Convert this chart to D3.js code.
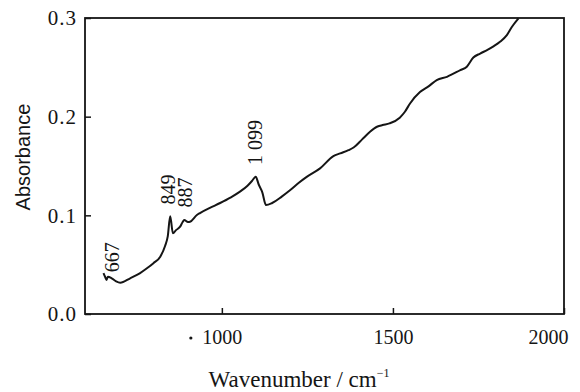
<!DOCTYPE html>
<html>
<head>
<meta charset="utf-8">
<script src="https://cdn.jsdelivr.net/npm/d3@7"></script>
<style>
  html, body { margin: 0; padding: 0; background: #fff; }
  svg { display: block; }
</style>
</head>
<body>
<div id="chart"></div>
<script>
// spectrum
const wavenumber = [654, 659, 663, 667, 678, 691, 703, 732, 760, 781, 800, 820, 834, 842, 849, 857, 866, 878, 885, 890, 901, 907, 927, 936, 965, 995, 1025, 1053, 1075, 1088, 1099, 1108, 1118, 1129, 1147, 1175, 1200, 1225, 1248, 1287, 1326, 1346, 1370, 1385, 1410, 1433, 1455, 1470, 1490, 1520, 1535, 1550, 1579, 1605, 1628, 1658, 1697, 1716, 1735, 1755, 1775, 1795, 1813, 1833, 1848, 1867]
const absorbance = [0.0415, 0.0375, 0.0345, 0.0378, 0.0362, 0.0330, 0.0317, 0.0362, 0.0412, 0.0463, 0.0515, 0.0581, 0.0689, 0.0790, 0.0990, 0.0818, 0.0850, 0.0885, 0.0930, 0.0952, 0.0932, 0.0935, 0.1003, 0.1023, 0.1075, 0.1125, 0.1180, 0.1240, 0.1300, 0.1348, 0.1390, 0.1310, 0.1236, 0.1104, 0.1125, 0.1190, 0.1256, 0.1330, 0.1390, 0.1476, 0.1600, 0.1628, 0.1660, 0.1687, 0.1770, 0.1847, 0.1900, 0.1915, 0.1932, 0.1990, 0.2050, 0.2134, 0.2249, 0.2310, 0.2371, 0.2404, 0.2472, 0.2506, 0.2599, 0.2640, 0.2675, 0.2715, 0.2759, 0.2827, 0.2911, 0.2996]

const xTicks = [1000, 1500, 2000]
const yTicks = [0.0, 0.1, 0.2, 0.3]
const peakNames = ['667', '849', '887', '1 099']
const peakAt = [667, 849, 887, 1099]
const peakLevel = [0.0424, 0.111, 0.108, 0.151]

const width = 580, height = 392
const margin = { top: 18, right: 16, bottom: 78, left: 85 }
const serif = '"Liberation Serif", "Times New Roman", "DejaVu Serif", serif'
const ink = '#151515'

const x = d3.scaleLinear().domain([600, 2000]).range([margin.left, width - margin.right])
const y = d3.scaleLinear().domain([0, 0.3]).range([height - margin.bottom, margin.top])

const svg = d3.select('#chart')
    .append('svg')
    .attr('width', width)
    .attr('height', height)
    .attr('viewBox', `0 0 ${width} ${height}`)

// frame
svg.append('rect')
    .attr('x', margin.left)
    .attr('y', margin.top)
    .attr('width', x.range()[1] - margin.left)
    .attr('height', y.range()[0] - margin.top)
    .attr('fill', 'none')
    .attr('stroke', ink)
    .attr('stroke-width', 1.8)

const xAxis = svg.append('g')
    .attr('transform', `translate(0,${y(0)})`)
    .call(d3.axisBottom(x).tickValues(xTicks).tickSize(-6).tickPadding(16).tickFormat(d3.format('d')))
    .attr('font-family', serif)
    .attr('font-size', 20)
xAxis.select('.domain').remove()
xAxis.selectAll('line').attr('stroke', ink).attr('stroke-width', 1.5)
xAxis.selectAll('text').attr('fill', ink)
    .filter(d => d === 2000)
    .attr('text-anchor', 'end')
    .attr('dx', 4)

// stray dot before 1000 in the original print
svg.append('circle')
    .attr('cx', x(1000) - 31)
    .attr('cy', y(0) + 24)
    .attr('r', 1.6)
    .attr('fill', ink)

const yAxis = svg.append('g')
    .attr('transform', `translate(${margin.left},0)`)
    .call(d3.axisLeft(y).tickValues(yTicks).tickSize(-6).tickPadding(8).tickFormat(d3.format('.1f')))
    .attr('font-family', serif)
    .attr('font-size', 21)
yAxis.select('.domain').remove()
yAxis.selectAll('line').attr('stroke', ink).attr('stroke-width', 1.5)
yAxis.selectAll('text').attr('fill', ink).attr('letter-spacing', 1)

const line = d3.line()
    .x((d, i) => x(wavenumber[i]))
    .y(d => y(d))
    .curve(d3.curveMonotoneX)

svg.append('path')
    .datum(absorbance)
    .attr('d', line)
    .attr('fill', 'none')
    .attr('stroke', ink)
    .attr('stroke-width', 2)
    .attr('stroke-linejoin', 'round')

// peak labels, vertical; small sideways nudges so 849 and 887 do not collide
const labelNudge = [11, 5, 9, 6]
svg.selectAll('.peak-label')
    .data(peakNames)
    .enter()
    .append('text')
    .attr('class', 'peak-label')
    .attr('font-family', serif)
    .attr('font-size', 20)
    .attr('fill', ink)
    .attr('transform', (d, i) => `translate(${x(peakAt[i]) + labelNudge[i]},${y(peakLevel[i])}) rotate(-90)`)
    .text(d => d)

svg.append('text')
    .attr('transform', 'translate(30,157) rotate(-90)')
    .attr('text-anchor', 'middle')
    .attr('font-family', '"Liberation Sans", Arial, sans-serif')
    .attr('font-size', 20)
    .attr('fill', ink)
    .text('Absorbance')

const xTitle = svg.append('text')
    .attr('x', 299)
    .attr('y', 387)
    .attr('text-anchor', 'middle')
    .attr('font-family', serif)
    .attr('font-size', 23)
    .attr('fill', ink)
xTitle.append('tspan').text('Wavenumber / cm')
xTitle.append('tspan').attr('dy', -10).attr('font-size', 12).text('−1')
</script>
</body>
</html>
